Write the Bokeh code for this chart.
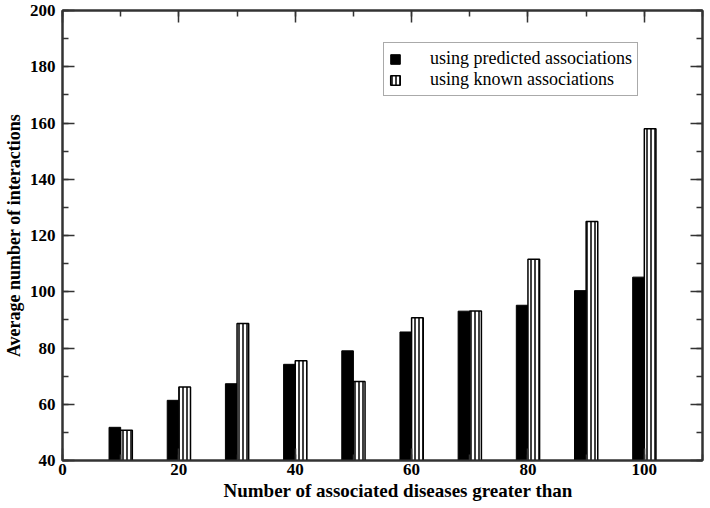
from bokeh.plotting import figure
from bokeh.models import (Range1d, SingleIntervalTicker, LinearAxis, Legend, LegendItem,
                          ColumnDataSource, CustomJSTickFormatter, Title)
from bokeh.embed import file_html
from bokeh.resources import INLINE

# ---- data ----
thresholds = [10, 20, 30, 40, 50, 60, 70, 80, 90, 100]
predicted = [51.8, 61.4, 67.3, 74.2, 79.0, 85.7, 93.1, 95.2, 100.4, 105.2]
known = [50.8, 66.1, 88.7, 75.5, 68.1, 90.8, 93.2, 111.6, 125.0, 158.0]
series_labels = ["using predicted associations", "using known associations"]
x_label = "Number of associated diseases greater than"
y_label = "Average number of interactions"

BAR_W = 2.0
pred_x = [t - BAR_W / 2 for t in thresholds]
known_x = [t + BAR_W / 2 for t in thresholds]

FONT = "Liberation Serif"

p = figure(width=710, height=508, output_backend="svg", toolbar_location=None,
           x_range=Range1d(0, 110), y_range=Range1d(40, 200),
           x_axis_type=None, y_axis_type=None,
           min_border_left=61, min_border_right=8, min_border_top=10, min_border_bottom=48)
p.grid.visible = False
p.outline_line_color = "#333333"
p.outline_line_width = 2
p.background_fill_color = "white"
p.border_fill_color = "white"

def make_axis(loc, show_labels, label=None, label_size="17px"):
    ax = LinearAxis(ticker=SingleIntervalTicker(interval=20, num_minor_ticks=2))
    ax.axis_line_color = "#333333"
    ax.axis_line_width = 2
    ax.major_tick_in = 12
    ax.major_tick_out = 0
    ax.minor_tick_in = 6
    ax.minor_tick_out = 0
    ax.major_tick_line_color = "#333333"
    ax.minor_tick_line_color = "#333333"
    ax.major_tick_line_width = 1.5
    ax.minor_tick_line_width = 1.5
    if show_labels:
        ax.major_label_text_font = FONT
        ax.major_label_text_font_style = "bold"
        ax.major_label_text_font_size = "17px"
        ax.major_label_text_color = "black"
        if label:
            ax.axis_label = label
            ax.axis_label_text_font = FONT
            ax.axis_label_text_font_style = "bold"
            ax.axis_label_text_font_size = label_size
            ax.axis_label_text_color = "black"
    else:
        ax.formatter = CustomJSTickFormatter(code="return ''")
        ax.major_label_text_font_size = "1px"
        ax.major_label_standoff = 0
    p.add_layout(ax, loc)
    return ax

xb = make_axis("below", True)
yl = make_axis("left", True, y_label, "18px")
make_axis("above", False)
make_axis("right", False)
xb.major_label_standoff = 3
yl.major_label_standoff = 7
yl.axis_label_standoff = 3

# x-axis title placed below the tick labels (slightly right of centre, as in the original)
xt = Title(text=x_label, align="left", offset=161, standoff=0,
           text_font=FONT, text_font_style="bold", text_font_size="19px",
           text_color="black")
p.add_layout(xt, "below")

src = ColumnDataSource(dict(px=pred_x, kx=known_x, pred=predicted, known=known))

r1 = p.vbar(x="px", width=BAR_W, bottom=40, top="pred", source=src,
            fill_color="black", line_color="black", line_width=1)
r2 = p.vbar(x="kx", width=BAR_W, bottom=40, top="known", source=src,
            fill_color="white", line_color="black", line_width=1.5,
            hatch_pattern="|", hatch_color="black", hatch_weight=1.5, hatch_scale=4)

legend = Legend(items=[LegendItem(label=series_labels[0], renderers=[r1]),
                       LegendItem(label=series_labels[1], renderers=[r2])],
                location=(321, 364), orientation="vertical")
legend.label_text_font = FONT
legend.label_text_font_size = "18px"
legend.label_text_line_height = 1.0
legend.label_text_color = "black"
legend.glyph_width = 12
legend.glyph_height = 12
legend.label_standoff = 29
legend.label_height = 17
legend.spacing = 0
legend.padding = 5
legend.margin = 0
legend.border_line_color = "#555555"
legend.border_line_width = 1.5
legend.background_fill_alpha = 1
p.add_layout(legend, "center")

open("out.html", "w").write(file_html(p, INLINE))
